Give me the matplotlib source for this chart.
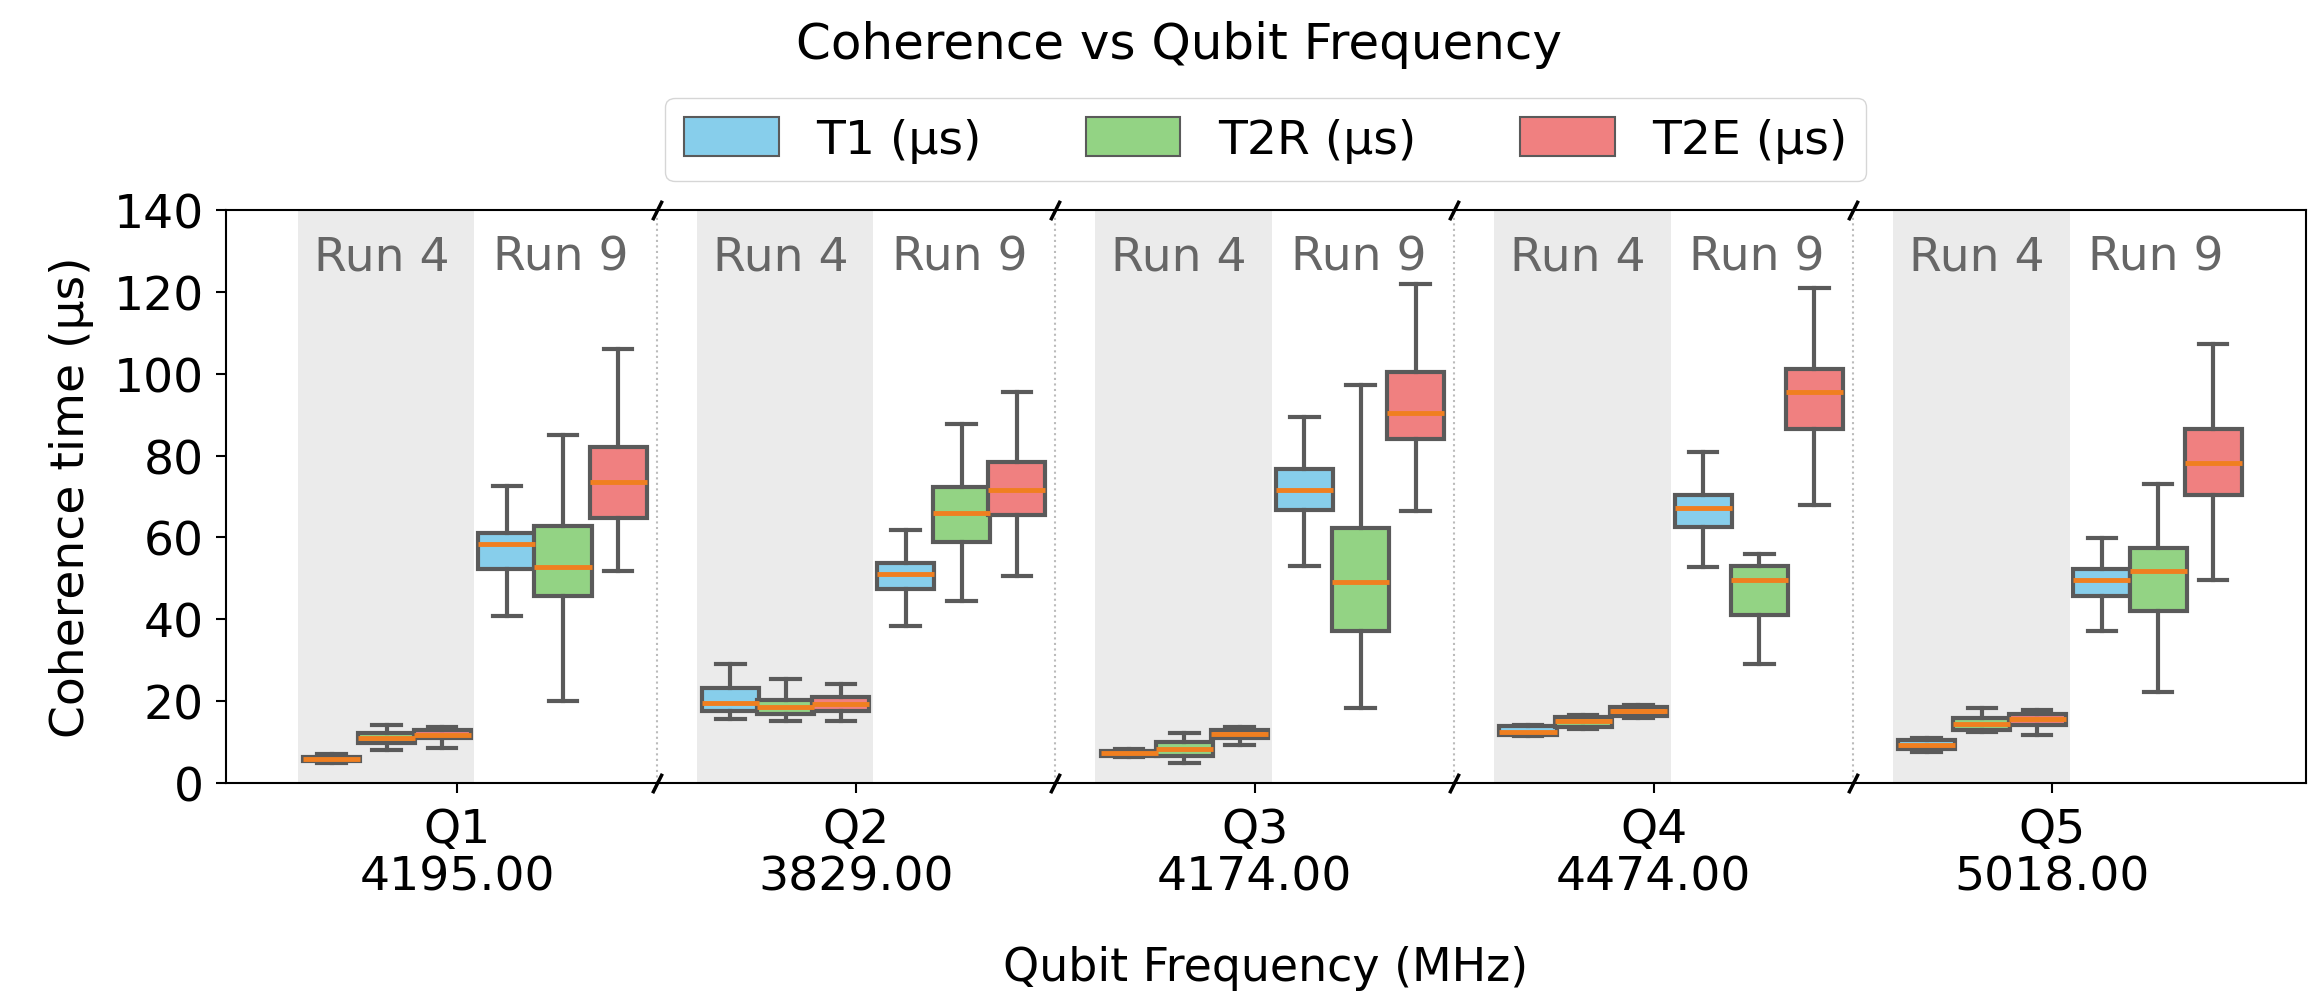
import matplotlib
matplotlib.use("Agg")
import matplotlib.pyplot as plt
from matplotlib.patches import Patch

qubits = ["Q1", "Q2", "Q3", "Q4", "Q5"]
freqs = [4195.00, 3829.00, 4174.00, 4474.00, 5018.00]
runs = ["Run 4", "Run 9"]
metrics = ["T1 (µs)", "T2R (µs)", "T2E (µs)"]

# box stats per qubit, run, metric: [whislo, q1, med, q3, whishi]
run4_t1 = [[4.8, 5.3, 5.9, 6.5, 7.0], [15.7, 17.5, 19.6, 23.3, 29.1],
           [6.3, 6.7, 7.3, 7.9, 8.3], [11.4, 11.8, 12.6, 14.0, 14.3],
           [7.7, 8.3, 9.4, 10.5, 11.1]]
run4_t2r = [[8.0, 9.9, 11.1, 12.3, 14.3], [15.2, 16.9, 18.6, 20.4, 25.4],
            [4.9, 6.7, 8.4, 10.1, 12.3], [13.3, 13.8, 15.2, 16.2, 16.7],
            [12.5, 13.0, 14.5, 15.9, 18.4]]
run4_t2e = [[8.6, 10.9, 11.8, 13.0, 13.8], [15.2, 17.5, 19.4, 21.1, 24.3],
            [9.2, 11.1, 12.0, 13.0, 13.8], [16.0, 16.5, 17.7, 18.6, 19.1],
            [11.8, 14.3, 15.7, 16.9, 17.9]]
run9_t1 = [[40.8, 52.4, 58.3, 61.1, 72.5], [38.4, 47.3, 51.1, 53.8, 61.7],
           [53.1, 66.7, 71.6, 76.6, 89.5], [52.8, 62.6, 67.2, 70.4, 80.8],
           [37.1, 45.8, 49.5, 52.4, 59.9]]
run9_t2r = [[20.1, 45.6, 52.8, 62.8, 84.9], [44.4, 58.8, 66.0, 72.4, 87.6],
            [18.4, 37.1, 49.2, 62.3, 97.3], [29.1, 41.0, 49.5, 53.1, 56.0],
            [22.3, 42.1, 51.8, 57.5, 73.0]]
run9_t2e = [[51.9, 64.8, 73.5, 82.0, 106.0], [50.7, 65.5, 71.6, 78.5, 95.5],
            [66.4, 84.0, 90.5, 100.4, 122.0], [67.9, 86.6, 95.5, 101.2, 120.8],
            [49.5, 70.3, 78.2, 86.4, 107.2]]

colors = ["#87CEEB", "#93D384", "#F08080"]
edge = "#5a5a5a"

run_data = [[run4_t1, run4_t2r, run4_t2e], [run9_t1, run9_t2r, run9_t2e]]
offsets = [[-0.315, -0.177, -0.038], [0.124, 0.265, 0.403]]
run_label_x = [-0.19, 0.26]
width = 0.143

fig = plt.figure(figsize=(23.16, 10.04), dpi=100)
ax = fig.add_axes([0.0976, 0.219, 0.8979, 0.571])

for i in range(len(qubits)):
    ax.axvspan(i - 0.40, i + 0.043, color="#ebebeb", zorder=0, lw=0)
    if i < len(qubits) - 1:
        ax.axvline(i + 0.5, color="#bbbbbb", ls=":", lw=1.5, zorder=0)
    for r in range(2):
        ax.text(i + run_label_x[r], 128.5, runs[r], ha="center", va="center",
                fontsize=34, color="#666666")
        for m in range(3):
            s = run_data[r][m][i]
            stats = [dict(whislo=s[0], q1=s[1], med=s[2], q3=s[3], whishi=s[4], fliers=[])]
            ax.bxp(stats, positions=[i + offsets[r][m]], widths=width, patch_artist=True,
                   showfliers=False,
                   boxprops=dict(facecolor=colors[m], edgecolor=edge, linewidth=3),
                   medianprops=dict(color="#f07f20", linewidth=3.5),
                   whiskerprops=dict(color=edge, linewidth=3),
                   capprops=dict(color=edge, linewidth=3),
                   manage_ticks=False)

# break marks
for i in range(len(qubits) - 1):
    for yy in [0, 1]:
        ax.plot([i + 0.5], [yy], transform=ax.get_xaxis_transform(), marker=[(-1, -2), (1, 2)],
                markersize=14, color="k", mew=2.5, linestyle="none", clip_on=False)

ax.set_xlim(-0.58, 4.635)
ax.set_ylim(0, 140)
ax.set_yticks(range(0, 141, 20))
ax.set_xticks(range(len(qubits)))
ax.set_xticklabels([f"{q}\n{f:.2f}" for q, f in zip(qubits, freqs)])
for lab in ax.get_xticklabels():
    lab.set_linespacing(1.08)
ax.tick_params(labelsize=34, length=7, width=1.5)
ax.tick_params(axis="x", pad=10)
ax.tick_params(axis="y", pad=9)
ax.set_ylabel("Coherence time (µs)", fontsize=34, labelpad=14)
ax.set_xlabel("Qubit Frequency (MHz)", fontsize=33, labelpad=33)
for sp in ax.spines.values():
    sp.set_linewidth(1.5)

handles = [Patch(facecolor=c, edgecolor=edge, linewidth=1.5, label=l) for c, l in zip(colors, metrics)]
fig.legend(handles=handles, loc="center", bbox_to_anchor=(0.5466, 0.860), ncol=3,
           fontsize=34, handlelength=2.0, handleheight=0.9, columnspacing=2.2)
fig.text(0.509, 0.955, "Coherence vs Qubit Frequency", ha="center", va="center", fontsize=36)

fig.savefig("out.png", dpi=100)
